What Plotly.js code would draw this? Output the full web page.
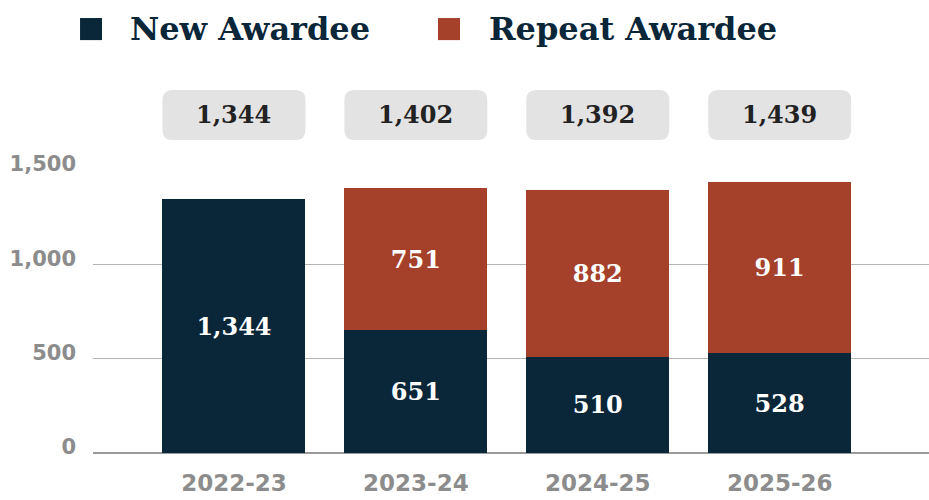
<!DOCTYPE html>
<html><head><meta charset="utf-8">
<script src="https://cdn.plot.ly/plotly-3.0.1.min.js"></script>
<style>html,body{margin:0;padding:0;background:#fff}#chart{width:929px;height:500px}</style>
</head><body><div id="chart"></div>
<script>
const categories = ["2022-23", "2023-24", "2024-25", "2025-26"];
const seriesNames = ["New Awardee", "Repeat Awardee"];
const newAwardee = [1344, 651, 510, 528];
const repeatAwardee = [null, 751, 882, 911];
const yTickVals = [0, 500, 1000, 1500];
const yTickText = ["0", "500", "1,000", "1,500"];

const NAVY = "#0a2639", RUST = "#a5402a";
const SERIF = "DejaVu Serif, serif";
const SANS = "DejaVu Sans, sans-serif";
const fmt = v => (v == null ? "" : v.toLocaleString("en-US"));
const totals = newAwardee.map((v, i) => v + (repeatAwardee[i] || 0));

const barW = 0.786;
const common = {
  type: "bar", x: categories, width: barW, textposition: "inside",
  insidetextanchor: "middle", textangle: 0, constraintext: "none",
  insidetextfont: {family: SERIF, size: 24, color: "#ffffff", weight: "bold"},
  hoverinfo: "skip", showlegend: false
};
const traces = [
  Object.assign({}, common, {name: seriesNames[0], y: newAwardee, text: newAwardee.map(fmt), marker: {color: NAVY}}),
  Object.assign({}, common, {name: seriesNames[1], y: repeatAwardee, text: repeatAwardee.map(fmt), marker: {color: RUST}})
];

const boxY0 = 1.106, boxY1 = 1.283;
const rx = 10 / 182, ry = 10 / 283;
const shapes = categories.map((c, i) => {
  const x0 = i - barW / 2, x1 = i + barW / 2, y0 = boxY0, y1 = boxY1;
  return {
    type: "path", xref: "x", yref: "paper", layer: "above",
    path: `M${x0+rx},${y0} L${x1-rx},${y0} Q${x1},${y0} ${x1},${y0+ry} L${x1},${y1-ry} Q${x1},${y1} ${x1-rx},${y1} L${x0+rx},${y1} Q${x0},${y1} ${x0},${y1-ry} L${x0},${y0+ry} Q${x0},${y0} ${x0+rx},${y0} Z`,
    fillcolor: "#e3e3e3", line: {width: 0}
  };
});
// legend squares
shapes.push({type: "rect", xref: "paper", yref: "paper", x0: -0.0155, x1: 0.0108, y0: 1.459, y1: 1.537, fillcolor: NAVY, line: {width: 0}});
shapes.push({type: "rect", xref: "paper", yref: "paper", x0: 0.4127, x1: 0.439, y0: 1.459, y1: 1.537, fillcolor: RUST, line: {width: 0}});

const annotations = categories.map((c, i) => ({
  x: c, xref: "x", y: (boxY0 + boxY1) / 2, yref: "paper", yanchor: "middle",
  text: fmt(totals[i]), showarrow: false,
  font: {family: SERIF, size: 24, color: "#222222", weight: "bold"}
}));
annotations.push({x: 0.0419, xref: "paper", xanchor: "left", y: 1.498, yref: "paper", yanchor: "middle",
  text: seriesNames[0], showarrow: false, font: {family: SERIF, size: 32, color: NAVY, weight: "bold"}});
annotations.push({x: 0.4713, xref: "paper", xanchor: "left", y: 1.498, yref: "paper", yanchor: "middle",
  text: seriesNames[1], showarrow: false, font: {family: SERIF, size: 32, color: NAVY, weight: "bold"}});

const layout = {
  width: 929, height: 500,
  margin: {l: 93, r: 0, t: 170, b: 47, pad: 0},
  barmode: "stack",
  paper_bgcolor: "#ffffff", plot_bgcolor: "#ffffff",
  xaxis: {type: "category", range: [-0.775, 3.821], showgrid: false, zeroline: false, showline: false,
    ticks: "", ticklabelstandoff: 14,
    tickfont: {family: SANS, size: 23, color: "#8c8c8c", weight: "bold"}},
  yaxis: {range: [0, 1500], tickvals: yTickVals, ticktext: yTickText, showgrid: true,
    gridcolor: "#b4b4b4", gridwidth: 1.2, zeroline: true, zerolinecolor: "#9a9a9a", zerolinewidth: 1.2,
    showline: false, ticks: "", ticklabelstandoff: 16, ticklabelshift: -6,
    tickfont: {family: SANS, size: 21, color: "#8c8c8c", weight: "bold"}},
  shapes: shapes, annotations: annotations, showlegend: false
};
Plotly.newPlot("chart", traces, layout, {displayModeBar: false, staticPlot: true});
</script></body></html>
